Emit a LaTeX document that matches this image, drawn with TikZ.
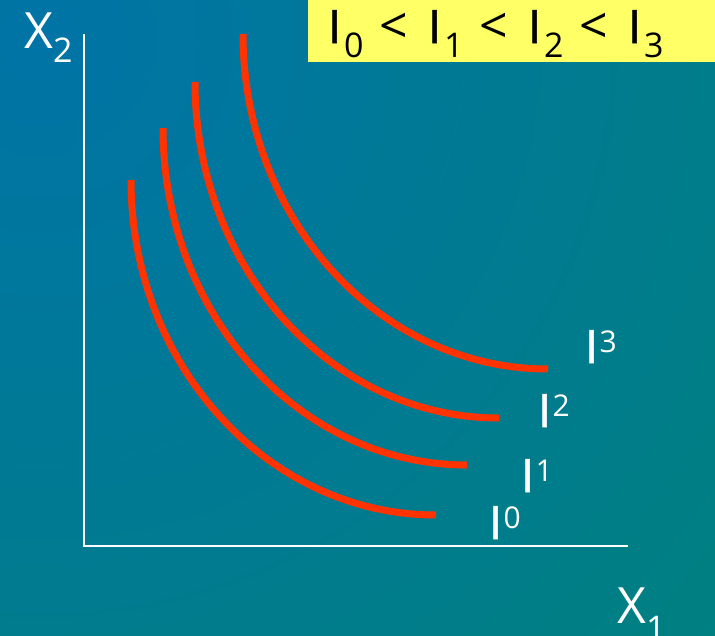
\documentclass[tikz,border=0pt]{standalone}
\usepackage{fontspec}
\setmainfont{Open Sans}
\newfontfamily\thickI[FakeBold=1.2]{Open Sans}
\definecolor{bgteal}{RGB}{0,128,128}
\definecolor{bgblue}{RGB}{0,116,166}
\definecolor{curvered}{RGB}{255,51,0}
\definecolor{boxyellow}{RGB}{255,255,102}
\pgfdeclareradialshading{bgshade}{\pgfpoint{0bp}{0bp}}{color(0bp)=(bgblue); color(21bp)=(bgteal); color(50bp)=(bgteal)}
\newcommand\subd[1]{\lower14pt\hbox{\fontsize{34}{34}\selectfont #1}}
\newcommand\supd[1]{\raise11pt\hbox{\fontsize{30}{30}\selectfont #1}}
\newcommand\bigI{{\thickI I}}
\newcommand\lessthan{{\fontsize{50}{50}\selectfont <}}
\begin{document}
\begin{tikzpicture}[x=1pt,y=1pt,
  curve/.style={draw=curvered,line width=7pt},
  axis/.style={draw=white,line width=2pt,line join=miter},
  lbl/.style={text=white,inner sep=0pt,anchor=base west,font=\fontsize{46}{46}\selectfont},
  axlbl/.style={text=white,inner sep=0pt,anchor=base west,font=\fontsize{50}{50}\selectfont}]
\useasboundingbox (0,0) rectangle (715,-635);
\clip (0,0) rectangle (715,-635);
\fill[bgteal] (0,0) rectangle (715,-635);
\shade[shading=bgshade] (40,-40) circle (1100);
% inequality box
\fill[boxyellow] (308,0) rectangle (715,-62);
\node (ineq) [inner sep=0pt,anchor=base west,font=\fontsize{46}{46}\selectfont,text=black] at (328,-43)
  {\makebox[51pt][l]{\bigI\hspace{3pt}\subd{0}}\makebox[49pt][l]{\lessthan}\makebox[51pt][l]{\bigI\hspace{3pt}\subd{1}}\makebox[49pt][l]{\lessthan}\makebox[51pt][l]{\bigI\hspace{3pt}\subd{2}}\makebox[49pt][l]{\lessthan}\bigI\hspace{3pt}\subd{3}};
% axes
\coordinate (ytop) at (84,-34);
\coordinate (xend) at (628,-546);
\draw[axis] (ytop) |- (xend);
\node (x2) [axlbl] at (24,-48) {X\subd{2}};
\node (x1) [axlbl] at (617,-623) {X\lower3pt\hbox{\subd{1}}};
% indifference curves
\coordinate (s0) at (131,-180);
\coordinate (s1) at (163,-128);
\coordinate (s2) at (195,-82);
\coordinate (s3) at (243,-34);
\draw[curve] (s0) arc[start angle=180,end angle=270,x radius=305,y radius=335];
\draw[curve] (s1) arc[start angle=180,end angle=270,x radius=304,y radius=337];
\draw[curve] (s2) arc[start angle=180,end angle=270,x radius=304,y radius=336];
\draw[curve] (s3) arc[start angle=180,end angle=270,x radius=305,y radius=335];
% curve labels
\node (l3) [lbl] at (585,-363) {\bigI\hspace{1.5pt}\supd{3}};
\node (l2) [lbl] at (538,-427) {\bigI\hspace{1.5pt}\supd{2}};
\node (l1) [lbl] at (521,-492) {\bigI\hspace{1.5pt}\supd{1}};
\node (l0) [lbl] at (489,-539) {\bigI\hspace{1.5pt}\supd{0}};
\end{tikzpicture}
\end{document}
